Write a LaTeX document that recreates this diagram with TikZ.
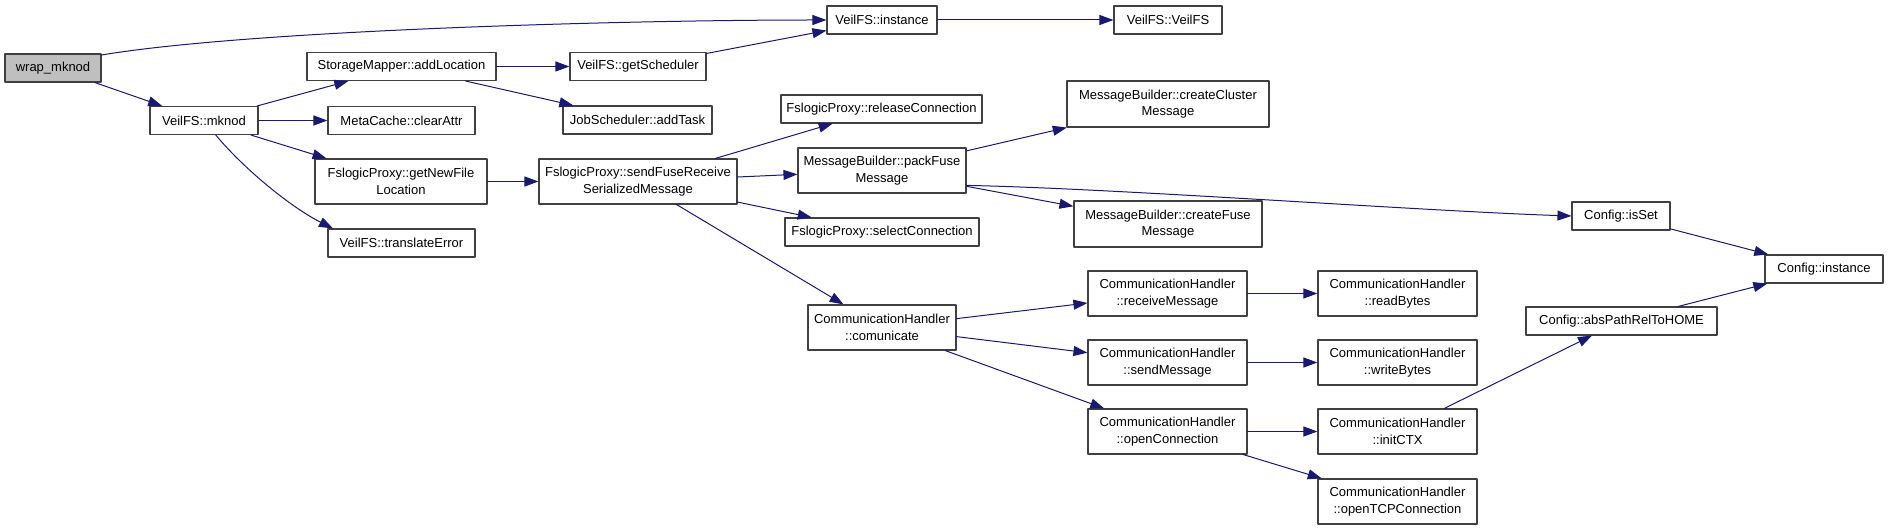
\documentclass[tikz,border=0pt]{standalone}
\usepackage{fontspec}
\setmainfont{Liberation Sans}
\usepackage{tikz}
\usetikzlibrary{arrows.meta}
\definecolor{edgeblue}{HTML}{191970}
\definecolor{boxgray}{HTML}{BFBFBF}
\newcommand{\fnfont}{\fontsize{13}{16.5}\selectfont}
\tikzset{
	fn/.style={draw=black!75, fill=white, line width=1.1pt, inner sep=0pt, minimum height=28pt, font=\fnfont, align=center},
	fntwo/.style={fn, minimum height=45pt},
	call/.style={->, draw=edgeblue, line width=1pt}
}
\begin{document}
\begin{tikzpicture}[line cap=round,line join=round,>={Triangle[length=14pt,width=10pt]},x=1pt,y=-1pt]
		\useasboundingbox (0,0) rectangle (1888,529);
		% colonne 1 et 2
		\node[fn, fill=boxgray, minimum width=96pt] (wrap) at (53,68) {wrap\_mknod};
		\node[fn, minimum width=108pt] (mknod) at (204,120.5) {VeilFS::mknod};
		% colonne 3
		\node[fn, minimum width=189pt] (addloc) at (401.5,66.5) {StorageMapper::addLocation};
		\node[fn, minimum width=147pt] (clearattr) at (401.5,120.5) {MetaCache::clearAttr};
		\node[fntwo, minimum width=172pt] (newfile) at (401,181.5) {FslogicProxy::getNewFile\\Location};
		\node[fn, minimum width=147pt] (transerr) at (401.5,243) {VeilFS::translateError};
		% colonne 4
		\node[fn, minimum width=136pt] (getsched) at (638,66.5) {VeilFS::getScheduler};
		\node[fn, minimum width=149pt] (addtask) at (637.5,120) {JobScheduler::addTask};
		\node[fntwo, minimum width=198pt] (sendfuse) at (638,181.5) {FslogicProxy::sendFuseReceive\\SerializedMessage};
		% colonne 5
		\node[fn, minimum width=110pt] (instance) at (882,20) {VeilFS::instance};
		\node[fn, minimum width=201pt] (release) at (881.5,109) {FslogicProxy::releaseConnection};
		\node[fntwo, minimum width=168pt] (packfuse) at (882,170.5) {MessageBuilder::packFuse\\Message};
		\node[fn, minimum width=194pt] (select) at (882,232) {FslogicProxy::selectConnection};
		\node[fntwo, minimum width=148pt] (comm) at (882,327.5) {CommunicationHandler\\::comunicate};
		% colonne 6
		\node[fn, minimum width=108pt] (veilfs) at (1168,20) {VeilFS::VeilFS};
		\node[fntwo, minimum width=202pt, minimum height=46pt] (cluster) at (1168,104) {MessageBuilder::createCluster\\Message};
		\node[fntwo, minimum width=188pt, minimum height=46pt] (createfuse) at (1168,224) {MessageBuilder::createFuse\\Message};
		\node[fntwo, minimum width=159pt] (recvmsg) at (1167.5,293.5) {CommunicationHandler\\::receiveMessage};
		\node[fntwo, minimum width=159pt] (sendmsg) at (1167.5,362.5) {CommunicationHandler\\::sendMessage};
		\node[fntwo, minimum width=159pt] (openconn) at (1167.5,431.5) {CommunicationHandler\\::openConnection};
		% colonne 7
		\node[fntwo, minimum width=159pt] (readbytes) at (1397.5,293.5) {CommunicationHandler\\::readBytes};
		\node[fntwo, minimum width=159pt] (writebytes) at (1397.5,362.5) {CommunicationHandler\\::writeBytes};
		\node[fntwo, minimum width=159pt] (initctx) at (1397.5,431.5) {CommunicationHandler\\::initCTX};
		\node[fntwo, minimum width=159pt] (opentcp) at (1397.5,501.5) {CommunicationHandler\\::openTCPConnection};
		% config
		\node[fn, minimum width=98pt] (isset) at (1621,216) {Config::isSet};
		\node[fn, minimum width=191pt] (abspath) at (1621.5,321) {Config::absPathRelToHOME};
		\node[fn, minimum width=118pt] (cfginst) at (1824,269) {Config::instance};
		% appels
		\draw[call] (wrap.15) .. controls +(150,-25) and +(-200,0) .. (instance.west);
		\draw[call] (wrap) -- (mknod);
		\draw[call] (mknod) -- (addloc);
		\draw[call] (mknod) -- (clearattr);
		\draw[call] (mknod) -- (newfile);
		\draw[call] (mknod.-51) .. controls +(30,36) and +(-40,-20) .. (transerr.168);
		\draw[call] (addloc) -- (getsched);
		\draw[call] (addloc) -- (addtask);
		\draw[call] (getsched) -- (instance);
		\draw[call] (instance) -- (veilfs);
		\draw[call] (newfile) -- (sendfuse);
		\draw[call] (sendfuse) -- (release);
		\draw[call] (sendfuse) -- (packfuse);
		\draw[call] (sendfuse) -- (select);
		\draw[call] (sendfuse) -- (comm);
		\draw[call] (packfuse) -- (cluster);
		\draw[call] (packfuse) -- (createfuse);
		\draw[call] (packfuse.-10) .. controls +(150,3) and +(-150,-5) .. (isset.west);
		\draw[call] (comm) -- (recvmsg);
		\draw[call] (comm) -- (sendmsg);
		\draw[call] (comm) -- (openconn);
		\draw[call] (recvmsg) -- (readbytes);
		\draw[call] (sendmsg) -- (writebytes);
		\draw[call] (openconn) -- (initctx);
		\draw[call] (openconn) -- (opentcp);
		\draw[call] (initctx) -- (abspath);
		\draw[call] (isset) -- (cfginst);
		\draw[call] (abspath) -- (cfginst);
\end{tikzpicture}
\end{document}
